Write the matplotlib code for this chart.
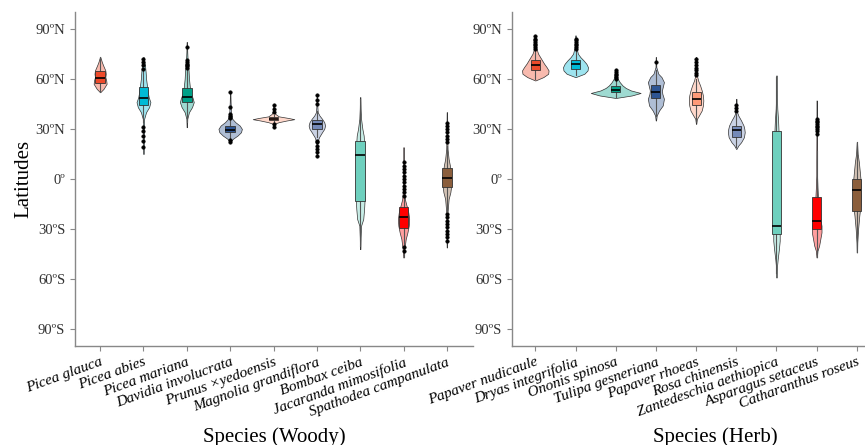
import numpy as np
import matplotlib.pyplot as plt
import matplotlib.colors as mcolors

plt.rcParams['font.family'] = ['Liberation Serif', 'DejaVu Serif']

woody_species = ['Picea glauca', 'Picea abies', 'Picea mariana', 'Davidia involucrata',
                 'Prunus ×yedoensis', 'Magnolia grandiflora', 'Bombax ceiba',
                 'Jacaranda mimosifolia', 'Spathodea campanulata']
herb_species = ['Papaver nudicaule', 'Dryas integrifolia', 'Ononis spinosa',
                'Tulipa gesneriana', 'Papaver rhoeas', 'Rosa chinensis',
                'Zantedeschia aethiopica', 'Asparagus setaceus', 'Catharanthus roseus']

colors = ['#EE4B2B', '#00BAD6', '#00A087', '#2E5593', '#FF9A78',
          '#7489B8', '#6ED0BE', '#FF0000', '#8B5E3C']

# box stats: q1, median, q3, whisker low, whisker high
woody_box = [
    (57.5, 60.5, 64.5, 52, 73),
    (44, 48.5, 55, 34, 65),
    (46, 49, 54.5, 34, 66),
    (28, 29.5, 31.5, 24, 36),
    (35.2, 36, 37, 34, 38.5),
    (30, 33, 35.5, 25, 41),
    (-13, 14.5, 23, -40, 48),
    (-29.5, -23, -17, -47, -8),
    (-5, 0.6, 6.5, -19, 20),
]
herb_box = [
    (65.5, 68, 71, 60, 77),
    (66, 68.6, 71.4, 62, 77),
    (52, 53.5, 55.5, 49, 59),
    (48.6, 52, 56.4, 38, 65),
    (44, 48, 52, 35, 60),
    (25, 29.4, 32, 19, 39),
    (-33, -28, 29, -56, 61),
    (-30, -25, -11, -47, 17),
    (-19, -6.6, 0, -44, 22),
]

woody_fliers = [
    [],
    [19, 23, 26, 29, 31, 66, 68, 70, 72],
    [66.5, 67.5, 68, 69, 70, 71, 79],
    [22, 23.5, 36.5, 37.5, 39, 43, 52],
    [31, 33, 40, 42, 44],
    [14, 16, 18, 20, 22, 23, 45, 47, 50],
    [],
    [-10, -8, -6, -4, -2, 0, 2, 4, 6, 8, 10, -41, -43],
    [22, 24, 26, 28, 30, 32, 33.5, -21, -23, -25, -27, -29, -31, -33, -35, -37],
]
herb_fliers = [
    [78, 79, 80, 81, 82, 83, 84, 85.5],
    [78, 79, 80, 81, 82, 83, 84],
    [60, 61, 62, 63, 64, 65],
    [70],
    [62, 63.5, 65, 66.5, 68, 70, 72],
    [41, 42.5, 44],
    [],
    [27, 28.5, 30, 31, 32, 33, 34, 35, 36],
    [],
]

# violin outlines: latitudes and half-widths (category units)
woody_vlat = [
    [52, 54, 57, 59, 61, 63, 65, 68, 70, 73],
    [15, 25, 36, 40, 43, 46, 49, 52, 56, 60, 64, 68, 73],
    [31, 36, 40, 43, 46, 48, 51, 55, 60, 65, 70, 76, 82],
    [22, 24, 26, 28, 30, 32, 34, 36, 40, 46, 52],
    [31, 33, 34, 35, 35.8, 36.5, 37.5, 39, 41, 44],
    [14, 22, 25, 28, 30, 32, 34, 36, 38, 40, 44, 50],
    [-42, -35, -28, -24, -18, -13, -5, 5, 15, 22, 26, 30, 36, 42, 49],
    [-47, -42, -36, -32, -28, -24, -20, -16, -12, -5, 5, 19],
    [-41, -36, -28, -20, -12, -8, -4, 0, 4, 8, 12, 18, 25, 33, 40],
]
woody_vw = [
    [0.005, 0.08, 0.15, 0.14, 0.12, 0.13, 0.12, 0.07, 0.04, 0.005],
    [0.005, 0.008, 0.015, 0.06, 0.13, 0.16, 0.12, 0.1, 0.08, 0.06, 0.05, 0.035, 0.005],
    [0.005, 0.01, 0.05, 0.12, 0.16, 0.14, 0.1, 0.07, 0.05, 0.04, 0.02, 0.01, 0.005],
    [0.005, 0.06, 0.17, 0.25, 0.27, 0.22, 0.12, 0.05, 0.02, 0.01, 0.005],
    [0.005, 0.01, 0.12, 0.3, 0.48, 0.35, 0.12, 0.04, 0.01, 0.005],
    [0.005, 0.01, 0.05, 0.12, 0.17, 0.19, 0.17, 0.12, 0.06, 0.02, 0.01, 0.005],
    [0.005, 0.01, 0.02, 0.07, 0.09, 0.1, 0.08, 0.07, 0.08, 0.09, 0.08, 0.05, 0.02, 0.01, 0.005],
    [0.005, 0.02, 0.05, 0.09, 0.12, 0.13, 0.11, 0.07, 0.03, 0.01, 0.005, 0.005],
    [0.005, 0.008, 0.01, 0.015, 0.04, 0.08, 0.1, 0.1, 0.09, 0.07, 0.04, 0.015, 0.01, 0.008, 0.005],
]
herb_vlat = [
    [59, 61, 63, 65, 67, 69, 71, 73, 75, 78, 82, 86],
    [61, 63, 65, 67, 69, 71, 73, 75, 78, 81, 86],
    [48.5, 50, 51.5, 53, 54.5, 56, 58, 60, 63, 66],
    [35, 38, 41, 44, 48, 51, 53, 55, 58, 61, 63, 67, 73],
    [33, 36, 38, 41, 44, 47, 50, 53, 56, 59, 62, 67, 73],
    [18, 20, 22, 25, 28, 30, 32, 35, 38, 40, 44, 48],
    [-59, -53, -48, -42, -37, -33, -28, -20, -10, 0, 10, 20, 29, 35, 42, 50, 62],
    [-47, -43, -40, -36, -32, -28, -24, -20, -15, -10, -5, 2, 10, 20, 30, 40, 47],
    [-44, -38, -30, -22, -16, -10, -5, 0, 5, 10, 15, 22],
]
herb_vw = [
    [0.005, 0.2, 0.32, 0.33, 0.28, 0.22, 0.17, 0.12, 0.07, 0.03, 0.01, 0.005],
    [0.005, 0.22, 0.3, 0.31, 0.27, 0.2, 0.12, 0.06, 0.03, 0.01, 0.005],
    [0.005, 0.4, 0.62, 0.38, 0.25, 0.17, 0.1, 0.05, 0.02, 0.005],
    [0.005, 0.02, 0.08, 0.17, 0.2, 0.16, 0.15, 0.17, 0.2, 0.14, 0.06, 0.01, 0.005],
    [0.005, 0.02, 0.07, 0.14, 0.17, 0.18, 0.17, 0.14, 0.1, 0.05, 0.02, 0.01, 0.005],
    [0.005, 0.05, 0.12, 0.19, 0.21, 0.2, 0.18, 0.12, 0.05, 0.02, 0.008, 0.005],
    [0.005, 0.01, 0.03, 0.06, 0.08, 0.08, 0.06, 0.04, 0.02, 0.02, 0.02, 0.03, 0.05, 0.04, 0.02, 0.01, 0.005],
    [0.005, 0.02, 0.06, 0.09, 0.12, 0.12, 0.09, 0.06, 0.04, 0.03, 0.02, 0.01, 0.01, 0.008, 0.006, 0.005, 0.005],
    [0.005, 0.01, 0.03, 0.06, 0.09, 0.1, 0.1, 0.09, 0.07, 0.05, 0.02, 0.005],
]

lat_ticks = [-90, -60, -30, 0, 30, 60, 90]
lat_labels = ['90ºS', '60ºS', '30ºS', '0º', '30ºN', '60ºN', '90ºN']


def draw_panel(ax, species, boxes, fliers, vlat, vw, xlabel):
    pos = np.arange(len(species))
    vstats = []
    for la, w in zip(vlat, vw):
        vstats.append({'coords': np.array(la, float), 'vals': np.array(w, float),
                       'mean': np.mean(la), 'median': np.median(la),
                       'min': min(la), 'max': max(la)})
    widths = [2 * max(w) for w in vw]
    parts = ax.violin(vstats, positions=pos, widths=widths,
                      showmeans=False, showextrema=False, showmedians=False)
    for body, c in zip(parts['bodies'], colors):
        body.set_alpha(None)
        body.set_facecolor(mcolors.to_rgba(c, 0.38))
        body.set_edgecolor('#333333')
        body.set_linewidth(0.5)
        body.set_zorder(1)

    bstats = []
    for (q1, med, q3, lo, hi), fl in zip(boxes, fliers):
        bstats.append({'q1': q1, 'med': med, 'q3': q3, 'whislo': lo,
                       'whishi': hi, 'fliers': fl})
    bp = ax.bxp(bstats, positions=pos, widths=0.22, patch_artist=True,
                showcaps=False, manage_ticks=False,
                boxprops=dict(edgecolor='#333333', linewidth=0.6),
                medianprops=dict(color='black', linewidth=1.2),
                whiskerprops=dict(color='#555555', linewidth=0.8),
                flierprops=dict(marker='o', markersize=2.6, markerfacecolor='black',
                                markeredgecolor='black', markeredgewidth=0.3))
    for patch, c in zip(bp['boxes'], colors):
        patch.set_facecolor(c)
        patch.set_zorder(3)
    for art in bp['medians']:
        art.set_zorder(4)
    for art in bp['fliers']:
        art.set_zorder(5)

    ax.set_xlim(-0.58, 8.6)
    ax.set_ylim(-100, 100)
    ax.set_xticks(pos)
    ax.set_xticklabels(species, rotation=20, ha='right', rotation_mode='anchor',
                       style='italic', fontsize=11)
    ax.set_yticks(lat_ticks)
    ax.set_yticklabels(lat_labels, fontsize=10.5, color='#333333')
    ax.tick_params(axis='both', color='#888888', length=3.5, width=0.8)
    for s in ['top', 'right']:
        ax.spines[s].set_visible(False)
    for s in ['left', 'bottom']:
        ax.spines[s].set_color('#888888')
        ax.spines[s].set_linewidth(1.0)
    ax.set_xlabel(xlabel, fontsize=15)


fig = plt.figure(figsize=(8.65, 4.45), dpi=100)
ax1 = fig.add_axes([0.0867, 0.2225, 0.460, 0.7506])
ax2 = fig.add_axes([0.5919, 0.2225, 0.4266, 0.7506])

draw_panel(ax1, woody_species, woody_box, woody_fliers, woody_vlat, woody_vw, 'Species (Woody)')
draw_panel(ax2, herb_species, herb_box, herb_fliers, herb_vlat, herb_vw, 'Species (Herb)')

ax1.set_ylabel('Latitudes', fontsize=15)
ax1.yaxis.set_label_coords(-0.105, 0.5)
ax1.xaxis.set_label_coords(0.5, -0.242)
ax2.xaxis.set_label_coords(0.55, -0.242)

fig.savefig('out.png', dpi=100)
